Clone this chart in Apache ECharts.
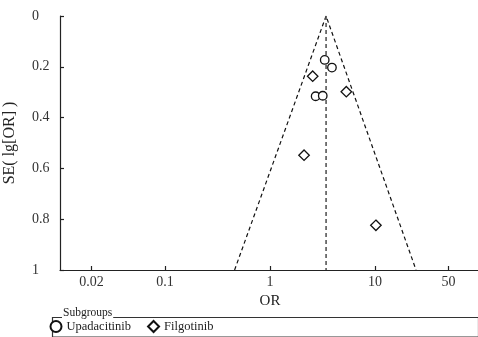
<!DOCTYPE html>
<html>
<head>
<meta charset="utf-8">
<script src="https://cdn.jsdelivr.net/npm/echarts@6/dist/echarts.min.js"></script>
<style>
html,body{margin:0;padding:0;background:#fff;}
#chart{width:478px;height:337px;}
</style>
</head>
<body>
<div id="chart"></div>
<script>
// ---- data ----
const upaName = 'Upadacitinib';
const upaOR = [3.32, 3.89, 2.72, 3.18];
const upaSE = [0.173, 0.203, 0.316, 0.314];

const filName = 'Filgotinib';
const filOR = [2.55, 5.33, 2.11, 10.2];
const filSE = [0.237, 0.298, 0.548, 0.824];

const pooledOR = 3.42;
const funnelOR = [0.46, 3.42, 24.6];
const funnelSE = [1, 0, 1];

const xTickLabels = [0.02, 0.1, 1, 10, 50];
const yTickLabels = [0, 0.2, 0.4, 0.6, 0.8, 1];

// ---- chart ----
const FONT = "'Liberation Serif', 'DejaVu Serif', serif";
const lg = v => Math.log10(v);
const xTickPos = xTickLabels.map(lg);

const chart = echarts.init(document.getElementById('chart'), null, {renderer: 'canvas'});

const option = {
  animation: false,
  backgroundColor: '#fff',
  grid: {left: 60, top: 16, width: 420, height: 254, containLabel: false, outerBoundsMode: 'none'},
  xAxis: {
    type: 'value',
    position: 'bottom',
    min: -2, max: 2,
    name: 'OR', nameLocation: 'middle', nameGap: 20,
    nameTextStyle: {fontFamily: FONT, fontSize: 15, color: '#222'},
    axisLine: {onZero: false, lineStyle: {color: '#222', width: 1.2}},
    axisTick: {show: true, inside: true, length: 4, customValues: xTickPos, lineStyle: {color: '#222', width: 1.2}},
    axisLabel: {
      customValues: xTickPos, margin: 5,
      fontFamily: FONT, fontSize: 14, color: '#333',
      formatter: v => {
        const t = xTickLabels.find(t => Math.abs(lg(t) - v) < 1e-6);
        return t === undefined ? '' : String(t);
      }
    },
    splitLine: {show: false}
  },
  yAxis: {
    type: 'value',
    position: 'left',
    inverse: true,
    min: 0, max: 1, interval: 0.2,
    name: 'SE( lg[OR] )', nameLocation: 'middle', nameGap: 42, nameRotate: 90,
    nameTextStyle: {fontFamily: FONT, fontSize: 16, color: '#222'},
    axisLine: {show: true, onZero: false, lineStyle: {color: '#222', width: 1.2}},
    axisTick: {show: true, inside: true, length: 4, lineStyle: {color: '#222', width: 1.2}},
    axisLabel: {
      margin: 28, align: 'left',
      fontFamily: FONT, fontSize: 14, color: '#333',
      formatter: v => String(yTickLabels.find(t => Math.abs(t - v) < 1e-6) ?? '')
    },
    splitLine: {show: false}
  },
  legend: {
    left: 49.5, top: 320, padding: 0,
    itemWidth: 11, itemHeight: 11, itemGap: 16,
    selectedMode: false,
    data: [upaName, filName],
    textStyle: {fontFamily: FONT, fontSize: 12.5, color: '#222'}
  },
  graphic: [
    {type: 'rect', left: 50, top: 315, shape: {x: 0.5, y: 0.5, width: 426, height: 19.5}, style: {fill: 'none', stroke: '#333', lineWidth: 1.2}, z: 0},
    {type: 'text', left: 62, top: 307, style: {text: 'Subgroups', font: "11.5px 'Liberation Serif', serif", fill: '#222', backgroundColor: '#fff', padding: [0, 1]}, z: 1}
  ],
  series: [
    {
      name: 'funnel', type: 'line', silent: true, symbol: 'none',
      data: funnelOR.map((o, i) => [lg(o), funnelSE[i]]),
      lineStyle: {color: '#111', width: 1.2, type: [4, 3]}
    },
    {
      name: 'pooled', type: 'line', silent: true, symbol: 'none',
      data: [[lg(pooledOR), 0], [lg(pooledOR), 1]],
      lineStyle: {color: '#555', width: 1.6, type: [4, 3]}
    },
    {
      name: upaName, type: 'scatter', symbol: 'circle', symbolSize: 8.5,
      data: upaOR.map((o, i) => [lg(o), upaSE[i]]),
      itemStyle: {color: '#fff', borderColor: '#111', borderWidth: 1.3, opacity: 1}, z: 5
    },
    {
      name: filName, type: 'scatter', symbol: 'diamond', symbolSize: 10.5,
      data: filOR.map((o, i) => [lg(o), filSE[i]]),
      itemStyle: {color: '#fff', borderColor: '#111', borderWidth: 1.3, opacity: 1}, z: 5
    }
  ]
};
chart.setOption(option);
</script>
</body>
</html>
